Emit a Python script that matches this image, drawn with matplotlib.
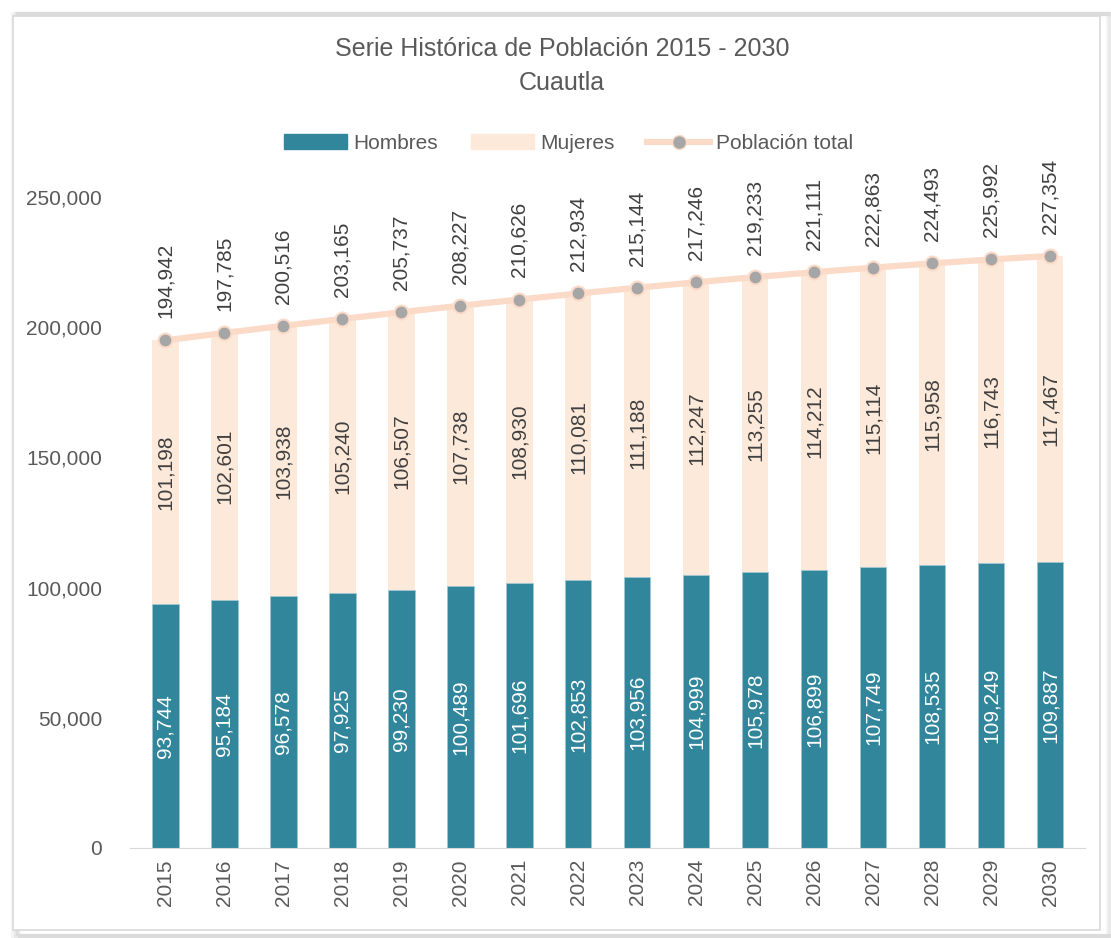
import matplotlib
matplotlib.use("Agg")
import matplotlib.pyplot as plt
from matplotlib.lines import Line2D
from matplotlib.patches import Rectangle
from matplotlib.ticker import FuncFormatter
import numpy as np

years = ['2015', '2016', '2017', '2018', '2019', '2020', '2021', '2022',
         '2023', '2024', '2025', '2026', '2027', '2028', '2029', '2030']
hombres = [93744, 95184, 96578, 97925, 99230, 100489, 101696, 102853,
           103956, 104999, 105978, 106899, 107749, 108535, 109249, 109887]
mujeres = [101198, 102601, 103938, 105240, 106507, 107738, 108930, 110081,
           111188, 112247, 113255, 114212, 115114, 115958, 116743, 117467]
total = [194942, 197785, 200516, 203165, 205737, 208227, 210626, 212934,
         215144, 217246, 219233, 221111, 222863, 224493, 225992, 227354]

plt.rcParams['font.family'] = ['Liberation Sans Narrow', 'Liberation Sans', 'DejaVu Sans']

teal = '#31869B'
peach = '#FDE9D9'
line_col = '#FBDBC8'
txt = '#404040'
tick_col = '#595959'

fig = plt.figure(figsize=(11.11, 9.38), dpi=100)

# frame with soft shadow
for i, a in enumerate([0.2, 0.35, 0.5]):
    r = Rectangle((0.012 + i * 0.002, 0.002), 0.985, 0.983,
                  transform=fig.transFigure, facecolor='none',
                  edgecolor='#d0d0d0', alpha=a, lw=3, zorder=-3)
    fig.patches.append(r)
fig.patches.append(Rectangle((0.012, 0.008), 0.978, 0.975, transform=fig.transFigure,
                             facecolor='white', edgecolor='#d9d9d9', lw=1.2, zorder=-2))

ax = fig.add_axes([0.117, 0.096, 0.86, 0.694])
x = np.arange(len(years))
w = 0.45
ax.bar(x, hombres, w, color=teal, edgecolor='#9ec6d1', linewidth=0.6, label='Hombres', zorder=2)
ax.bar(x, mujeres, w, bottom=hombres, color=peach, label='Mujeres', zorder=2)
ax.plot(x, total, color=line_col, lw=4.5, marker='o', markersize=10,
        markerfacecolor='#A6A6A6', markeredgecolor=line_col, markeredgewidth=1.5,
        label='Población total', zorder=3, clip_on=False)

for i in range(len(years)):
    ax.text(x[i], hombres[i] / 2, f'{hombres[i]:,}', rotation=90, ha='center',
            va='center', color='white', fontsize=15, zorder=4)
    ax.text(x[i], hombres[i] + mujeres[i] / 2, f'{mujeres[i]:,}', rotation=90,
            ha='center', va='center', color=txt, fontsize=15, zorder=4)
    ax.text(x[i], total[i] + 8500, f'{total[i]:,}', rotation=90, ha='center',
            va='bottom', color=txt, fontsize=15, zorder=4, clip_on=False)

ax.set_ylim(0, 250000)
ax.set_xlim(-0.6, len(years) - 0.4)
ax.set_yticks(np.arange(0, 250001, 50000))
ax.yaxis.set_major_formatter(FuncFormatter(lambda v, p: f'{int(v):,}'))
ax.set_xticks(x)
ax.set_xticklabels(years, rotation=90)
ax.tick_params(axis='both', length=0, labelsize=15, colors=tick_col)
ax.tick_params(axis='y', pad=20)
ax.tick_params(axis='x', pad=8)
for s in ['top', 'right', 'left']:
    ax.spines[s].set_visible(False)
ax.spines['bottom'].set_color('#D9D9D9')
ax.set_facecolor('none')

fig.text(0.506, 0.948, 'Serie Histórica de Población 2015 - 2030', ha='center',
         va='center', fontsize=18, color=tick_col)
fig.text(0.506, 0.912, 'Cuautla', ha='center', va='center', fontsize=18, color=tick_col)

handles = [Rectangle((0, 0), 1, 1, color=teal),
           Rectangle((0, 0), 1, 1, color=peach),
           Line2D([], [], color=line_col, lw=4.5, marker='o', markersize=10,
                  markerfacecolor='#A6A6A6', markeredgecolor=line_col)]
fig.legend(handles, ['Hombres', 'Mujeres', 'Población total'], loc='center',
           bbox_to_anchor=(0.512, 0.847), ncol=3, frameon=False, fontsize=15,
           labelcolor=tick_col, handlelength=3.0, columnspacing=1.6, handletextpad=0.3)

fig.savefig('out.png', dpi=100)
